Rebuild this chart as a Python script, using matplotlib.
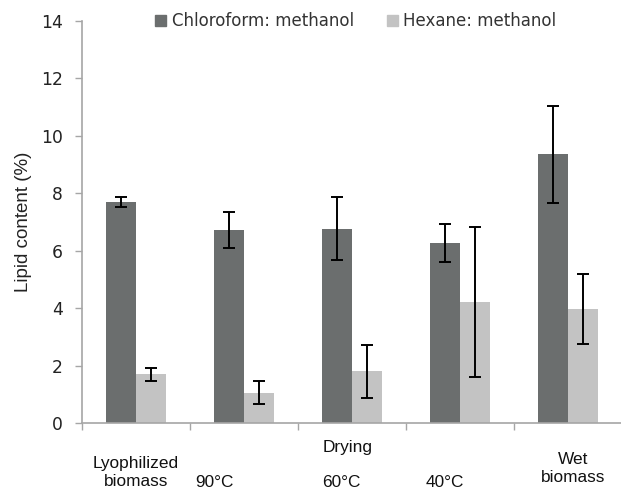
import matplotlib
matplotlib.use("Agg")
import matplotlib.pyplot as plt
from matplotlib.patches import Patch
import numpy as np

series = ["Chloroform: methanol", "Hexane: methanol"]
chloro = [7.70, 6.72, 6.77, 6.27, 9.36]
chloro_err = [0.17, 0.63, 1.09, 0.66, 1.69]
hexane = [1.69, 1.05, 1.80, 4.21, 3.97]
hexane_err = [0.21, 0.40, 0.92, 2.60, 1.21]
yticks = [0, 2, 4, 6, 8, 10, 12, 14]

# category labels: text, x (data units), y (axes fraction, centre)
cat_labels = [("Lyophilized\nbiomass", 0.0, -0.123), ("90\u00b0C", 0.73, -0.149),
              ("60\u00b0C", 1.90, -0.149), ("40\u00b0C", 2.86, -0.149),
              ("Wet\nbiomass", 4.05, -0.113), ("Drying", 1.96, -0.062)]

dark = "#6b6e6e"
light = "#c3c3c3"
axis_col = "#a6a6a6"

fig = plt.figure(figsize=(6.21, 4.91), dpi=100)
ax = fig.add_axes([82/621, 1 - 423/491, 1 - 82/621, (423 - 21)/491])

x = np.arange(len(chloro))
w = 0.28
ax.bar(x - w/2, chloro, w, color=dark, zorder=2)
ax.bar(x + w/2, hexane, w, color=light, zorder=2)
ek = dict(fmt="none", ecolor="black", elinewidth=1.4, capsize=4, capthick=1.4, zorder=3)
ax.errorbar(x - w/2, chloro, yerr=chloro_err, **ek)
ax.errorbar(x + w/2, hexane, yerr=hexane_err, **ek)

ax.set_xlim(-0.5, 4.49)
ax.set_ylim(0, 14)
ax.set_yticks(yticks)
ax.set_yticklabels([str(t) for t in yticks], fontsize=12.3, color="#222222")
ax.set_xticks(np.arange(-0.5, 4.0, 1.0))
ax.set_xticklabels([])
ax.tick_params(axis="x", direction="out", length=5, color=axis_col, width=1)
ax.tick_params(axis="y", direction="out", length=5, color=axis_col, width=1, pad=9)
for s in ["top", "right"]:
    ax.spines[s].set_visible(False)
for s in ["left", "bottom"]:
    ax.spines[s].set_color(axis_col)
    ax.spines[s].set_linewidth(1.2)

fig.text(24/621, 1 - 222/491, "Lipid content (%)", rotation=90, ha="center", va="center",
         fontsize=13.5, family="Liberation Sans", color="#222222")

tf = ax.get_xaxis_transform()
for txt, xp, yp in cat_labels:
    ax.text(xp, yp, txt, transform=tf, ha="center", va="center", fontsize=12.4,
            family="Liberation Sans", linespacing=1.3, color="#111111")

handles = [Patch(color=dark), Patch(color=light)]
fig.legend(handles, series, loc="center", bbox_to_anchor=(356/621, 1 - 21/491), ncol=2,
           frameon=False, fontsize=12, handlelength=0.65, handleheight=0.65,
           handletextpad=0.35, columnspacing=1.95, labelcolor="#333333")

fig.savefig("out.png", dpi=100)
